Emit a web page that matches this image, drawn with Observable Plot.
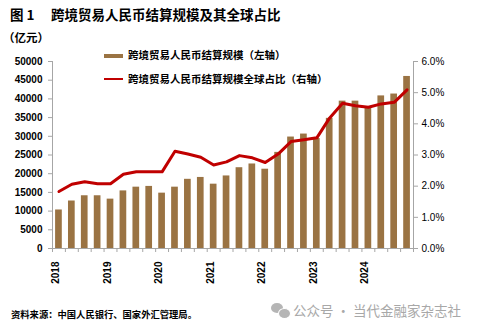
<!DOCTYPE html>
<html><head><meta charset="utf-8">
<script src="https://cdn.jsdelivr.net/npm/d3@7"></script>
<script src="https://cdn.jsdelivr.net/npm/@observablehq/plot@0.6"></script>
<style>
body{margin:0;background:#fff;}
#wrap{position:relative;width:478px;height:329px;overflow:hidden;font-family:"Liberation Sans","Noto Sans CJK SC",sans-serif;}
.t{position:absolute;white-space:nowrap;color:#000;line-height:1;font-family:"Noto Sans CJK SC","Liberation Sans",sans-serif;font-weight:700;}
</style></head><body><div id="wrap"></div>
<script>
const years = [2018, 2019, 2020, 2021, 2022, 2023, 2024];
const volume = [10300,12700,14100,14100,13200,15400,16400,16600,14800,16400,18500,19000,17200,19400,21600,22600,21200,25700,29800,30600,29400,34800,39400,39400,37900,40800,41300,46000];
const share = [1.83,2.06,2.14,2.08,2.08,2.38,2.46,2.46,2.46,3.12,3.03,2.93,2.68,2.78,2.98,2.91,2.76,3.03,3.43,3.49,3.55,4.19,4.66,4.58,4.53,4.64,4.69,5.09];
const leftTicks = [0,5000,10000,15000,20000,25000,30000,35000,40000,45000,50000];
const rightTicks = [0,1,2,3,4,5,6];
const seriesNames = ["跨境贸易人民币结算规模（左轴）", "跨境贸易人民币结算规模全球占比（右轴）"];
const LEFT_MAX = 50000, RIGHT_MAX = 6;

const rows = volume.map((v, i) => ({i, v, s: share[i] * LEFT_MAX / RIGHT_MAX}));
const yearRows = years.map((y, k) => ({x: k * 4 + 0.5, label: String(y)}));
const nQ = volume.length;

const chart = Plot.plot({
  width: 478, height: 329,
  marginLeft: 52, marginRight: 65, marginTop: 61, marginBottom: 81,
  x: {domain: [0, nQ]},
  y: {domain: [0, LEFT_MAX]},
  style: {fontFamily: "'Liberation Sans', Arial, sans-serif", fontSize: "10px", color: "#000", background: "#fff"},
  marks: [
    Plot.rectY(rows, {x1: "i", x2: d => d.i + 1, y: "v", fill: "#9a7343", insetLeft: 3.1, insetRight: 3.1}),
    Plot.ruleX([0], {stroke: "#a6a6a6"}),
    Plot.ruleX([nQ], {stroke: "#a6a6a6"}),
    Plot.ruleY([0], {stroke: "#a6a6a6"}),
    Plot.axisY({ticks: leftTicks, tickSize: 4, tickPadding: 6, tickFormat: d => String(d), stroke: "#a6a6a6", fill: "#000", fontWeight: "bold", label: null}),
    Plot.axisY({anchor: "right", ticks: rightTicks.map(p => p * LEFT_MAX / RIGHT_MAX), tickSize: 4, tickPadding: 4,
      tickFormat: d => (d * RIGHT_MAX / LEFT_MAX).toFixed(1) + "%", stroke: "#a6a6a6", fill: "#000", label: null}),
    Plot.axisX({ticks: d3.range(0, nQ + 1), tickSize: 4, tickFormat: () => "", stroke: "#a6a6a6", label: null}),
    Plot.text(yearRows, {x: "x", frameAnchor: "bottom", dy: 13, rotate: -90, textAnchor: "end", text: "label", fontWeight: "bold", fill: "#000"}),
    Plot.lineY(rows, {x: d => d.i + 0.5, y: "s", stroke: "#c00000", strokeWidth: 3})
  ]
});
const wrap = document.getElementById("wrap");
wrap.appendChild(chart);
chart.style.position = "absolute"; chart.style.left = "0"; chart.style.top = "0";

function addText(txt, left, top, size, extra) {
  const d = document.createElement("div");
  d.className = "t";
  d.textContent = txt;
  d.style.left = left + "px"; d.style.top = top + "px"; d.style.fontSize = size + "px";
  if (extra) Object.assign(d.style, extra);
  wrap.appendChild(d);
  return d;
}
addText("图 1", 10, 8, 13.5);
addText("跨境贸易人民币结算规模及其全球占比", 51, 8, 13.5);
addText("（亿元）", 3, 31.5, 11.5);
// legend
const sw1 = document.createElement("div");
Object.assign(sw1.style, {position: "absolute", left: "104px", top: "53.5px", width: "19px", height: "4px", background: "#9a7343"});
wrap.appendChild(sw1);
const sw2 = document.createElement("div");
Object.assign(sw2.style, {position: "absolute", left: "104px", top: "78px", width: "19px", height: "1.6px", background: "#c00000"});
wrap.appendChild(sw2);
addText(seriesNames[0], 128, 50, 10.5);
addText(seriesNames[1], 128, 73.5, 10.5);
// footer
addText("资料来源：中国人民银行、国家外汇管理局。", 11, 309.5, 9.3);
// watermark
const ic1 = document.createElement("div");
Object.assign(ic1.style, {position: "absolute", left: "271px", top: "303px", width: "12px", height: "10px", borderRadius: "50%", background: "#b5b5b5"});
wrap.appendChild(ic1);
const ic2 = document.createElement("div");
Object.assign(ic2.style, {position: "absolute", left: "278px", top: "308px", width: "11px", height: "9px", borderRadius: "50%", background: "#b5b5b5", border: "1px solid #fff"});
wrap.appendChild(ic2);
addText("公众号 · 当代金融家杂志社", 293, 304, 13.5, {color: "#a8a8a8", fontWeight: "400"});
</script></body></html>
